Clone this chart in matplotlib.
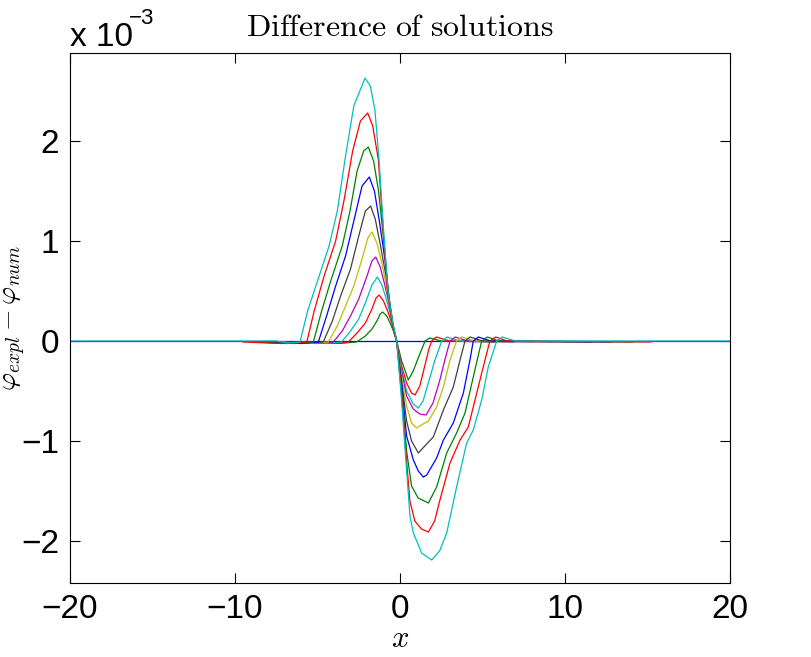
import matplotlib
matplotlib.use('Agg')
from matplotlib import pyplot as plt

plt.rcParams['mathtext.fontset'] = 'cm'
plt.rcParams['font.family'] = ['Liberation Sans', 'DejaVu Sans']

# values of the y axis are in units of 1e-3
x0 = [-20, 20]
y0 = [0, 0]

x1 = [-4.7, -3.7, -2.63, -2.1, -1.7, -1.4, -1.2, -1.05, -0.8, -0.6, -0.4, -0.2, 0.1, 0.3, 0.5, 0.8, 1.2, 1.52, 1.8, 2.5, 5.7]
y1 = [-0.01, -0.025, -0.01, 0.05, 0.12, 0.2, 0.27, 0.29, 0.25, 0.18, 0.1, 0.0, -0.2, -0.29, -0.39, -0.3, -0.13, 0.0, 0.03, 0.0, -0.01]

x2 = [-5.3, -4.2, -3.13, -2.6, -2.1, -1.7, -1.45, -1.27, -1.0, -0.75, -0.5, -0.33, -0.2, 0.1, 0.4, 0.7, 0.91, 1.2, 1.5, 1.75, 1.92, 2.2, 3.0, 6.9]
y2 = [-0.01, -0.025, -0.01, 0.08, 0.18, 0.32, 0.43, 0.46, 0.4, 0.3, 0.18, 0.07, 0.0, -0.25, -0.42, -0.52, -0.54, -0.45, -0.25, -0.08, 0.0, 0.04, 0.0, -0.01]

x3 = [-5.9, -4.6, -3.54, -3.0, -2.5, -2.1, -1.7, -1.37, -1.1, -0.85, -0.6, -0.4, -0.2, 0.1, 0.4, 0.8, 1.11, 1.4, 1.75, 2.1, 2.53, 2.85, 3.6, 8.1]
y3 = [-0.01, -0.025, -0.01, 0.1, 0.22, 0.38, 0.56, 0.64, 0.56, 0.43, 0.28, 0.13, 0.0, -0.28, -0.5, -0.63, -0.67, -0.6, -0.4, -0.2, 0.0, 0.04, 0.0, -0.01]

x4 = [-6.5, -5.1, -4.04, -3.5, -3.0, -2.5, -2.0, -1.7, -1.47, -1.2, -0.95, -0.7, -0.5, -0.35, -0.2, 0.1, 0.4, 0.8, 1.2, 1.58, 2.0, 2.4, 2.7, 3.03, 3.35, 4.1, 9.3]
y4 = [-0.01, -0.025, -0.01, 0.1, 0.25, 0.42, 0.65, 0.8, 0.84, 0.74, 0.58, 0.4, 0.22, 0.08, 0.0, -0.3, -0.55, -0.68, -0.73, -0.74, -0.62, -0.4, -0.2, 0.0, 0.04, 0.0, -0.01]

x5 = [-7.1, -5.6, -4.35, -3.8, -3.3, -2.8, -2.3, -1.95, -1.7, -1.4, -1.1, -0.8, -0.55, -0.38, -0.2, 0.1, 0.4, 0.7, 1.0, 1.3, 1.72, 2.22, 2.63, 3.03, 3.43, 3.75, 4.5, 10.4]
y5 = [-0.01, -0.025, -0.01, 0.15, 0.35, 0.55, 0.82, 1.03, 1.09, 0.98, 0.78, 0.52, 0.28, 0.1, 0.0, -0.35, -0.65, -0.82, -0.87, -0.84, -0.8, -0.66, -0.46, -0.19, 0.0, 0.04, 0.0, -0.01]

x6 = [-7.7, -6.0, -4.65, -4.1, -3.6, -3.0, -2.5, -2.1, -1.78, -1.5, -1.2, -0.85, -0.6, -0.4, -0.2, 0.1, 0.4, 0.7, 1.11, 1.5, 2.02, 2.63, 3.23, 3.64, 3.94, 4.25, 5.0, 11.6]
y6 = [-0.01, -0.025, -0.01, 0.2, 0.45, 0.72, 1.05, 1.3, 1.35, 1.22, 0.97, 0.65, 0.35, 0.13, 0.0, -0.4, -0.8, -1.0, -1.12, -1.05, -0.96, -0.69, -0.46, -0.19, 0.0, 0.04, 0.0, -0.01]

x7 = [-8.3, -6.4, -4.95, -4.45, -3.9, -3.3, -2.8, -2.3, -1.86, -1.55, -1.25, -0.9, -0.65, -0.42, -0.2, 0.1, 0.4, 0.81, 1.11, 1.41, 1.62, 2.22, 2.63, 3.23, 3.84, 4.24, 4.44, 4.75, 5.5, 12.8]
y7 = [-0.01, -0.025, -0.01, 0.25, 0.55, 0.85, 1.2, 1.55, 1.64, 1.5, 1.2, 0.8, 0.42, 0.15, 0.0, -0.45, -0.95, -1.19, -1.3, -1.36, -1.34, -1.17, -0.99, -0.82, -0.52, -0.19, 0.0, 0.04, 0.0, -0.01]

x8 = [-8.9, -6.8, -5.25, -4.75, -4.2, -3.5, -3.03, -2.6, -2.2, -1.92, -1.6, -1.3, -0.95, -0.7, -0.45, -0.2, 0.1, 0.4, 0.7, 1.1, 1.72, 2.22, 2.83, 3.43, 3.94, 4.44, 4.95, 5.3, 6.0, 14.1]
y8 = [-0.01, -0.025, -0.01, 0.3, 0.6, 0.95, 1.3, 1.7, 1.9, 1.94, 1.8, 1.5, 0.95, 0.45, 0.17, 0.0, -0.5, -1.1, -1.45, -1.57, -1.62, -1.46, -1.12, -0.92, -0.72, -0.36, 0.0, 0.04, 0.0, -0.01]

x9 = [-9.5, -7.2, -5.65, -5.2, -4.6, -3.9, -3.4, -2.87, -2.4, -1.96, -1.65, -1.31, -1.03, -0.75, -0.45, -0.2, 0.1, 0.4, 0.6, 0.9, 1.3, 1.72, 2.1, 2.42, 3.03, 3.64, 4.14, 4.65, 5.15, 5.45, 5.8, 6.5, 15.2]
y9 = [-0.01, -0.025, -0.01, 0.3, 0.65, 1.0, 1.4, 1.9, 2.2, 2.28, 2.15, 1.81, 1.14, 0.48, 0.18, 0.0, -0.55, -1.2, -1.6, -1.8, -1.88, -1.91, -1.8, -1.59, -1.22, -0.99, -0.86, -0.52, -0.19, 0.0, 0.04, 0.0, -0.01]

x10 = [-20, -7.5, -6.8, -6.06, -5.6, -5.0, -4.3, -3.8, -3.3, -2.8, -2.12, -1.8, -1.52, -1.27, -1.01, -0.72, -0.45, -0.2, 0.1, 0.4, 0.61, 0.81, 1.31, 1.92, 2.4, 2.83, 3.43, 4.04, 4.44, 4.95, 5.35, 5.86, 6.2, 7.0, 20]
y10 = [0, 0, -0.02, -0.01, 0.3, 0.6, 0.95, 1.3, 1.85, 2.35, 2.63, 2.55, 2.31, 1.81, 1.14, 0.48, 0.2, 0.0, -0.6, -1.3, -1.76, -1.92, -2.12, -2.19, -2.1, -1.92, -1.46, -1.02, -0.89, -0.59, -0.26, 0.0, 0.04, 0.0, 0]

# matlab default line colours, cycled
colors = [(0, 0, 1), (0, 0.5, 0), (1, 0, 0), (0, 0.75, 0.75), (0.75, 0, 0.75),
          (0.75, 0.75, 0), (0.25, 0.25, 0.25)]

curves = [(x0, y0), (x1, y1), (x2, y2), (x3, y3), (x4, y4), (x5, y5),
          (x6, y6), (x7, y7), (x8, y8), (x9, y9), (x10, y10)]

fig = plt.figure(figsize=(8.11, 6.57), dpi=100)
ax = fig.add_axes([70 / 811, 74 / 657, 660 / 811, 530 / 657])

for i, (xs, ys) in enumerate(curves):
    ax.plot(xs, ys, color=colors[i % 7], lw=0.9)

ax.set_xlim(-20, 20)
ax.set_ylim(-2.42, 2.88)
ax.set_xticks([-20, -10, 0, 10, 20])
ax.set_yticks([-2, -1, 0, 1, 2])
ax.tick_params(direction='in', length=7, width=0.8, top=True, right=True,
               labelsize=24, pad=8)
for s in ax.spines.values():
    s.set_linewidth(0.8)

ax.set_title(r'$\mathrm{Difference\ of\ solutions}$', fontsize=23, pad=12)
ax.set_xlabel(r'$x$', fontsize=22)
ax.xaxis.set_label_coords(0.5, -0.078)
ax.set_ylabel(r'$\varphi_{expl} - \varphi_{num}$', fontsize=20)
ax.yaxis.set_label_coords(-0.064, 0.5)

# matlab style exponent label
fig.text(70 / 811, 1 - 46 / 657, 'x 10', fontsize=24, ha='left', va='baseline')
fig.text(129 / 811, 1 - 24 / 657, '\u22123', fontsize=16, ha='left', va='baseline')

fig.savefig('out.png', dpi=100)
